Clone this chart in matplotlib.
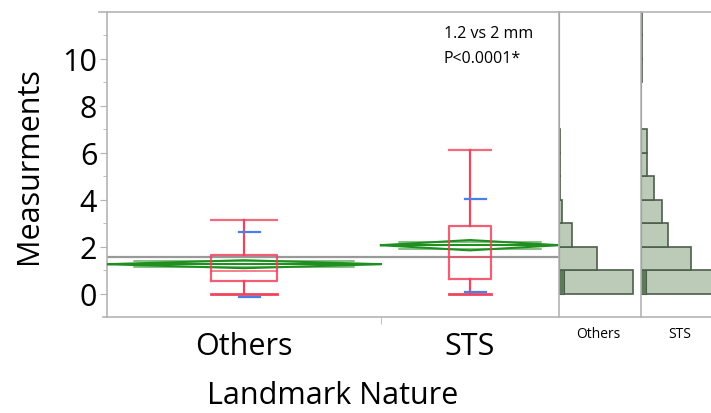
import numpy as np
import matplotlib
matplotlib.use('Agg')
import matplotlib.pyplot as plt

plt.rcParams['font.family'] = ['Open Sans', 'DejaVu Sans']

# data
groups = ['Others', 'STS']
means = [1.25, 2.06]
ci_half = [0.17, 0.22]
grand_mean = 1.57
q1 = [0.54, 0.64]
medians = [0.94, 1.57]
q3 = [1.64, 2.86]
whisk_lo = [0.0, 0.0]
whisk_hi = [3.15, 6.1]
sd_lo = [-0.14, 0.07]
sd_hi = [2.62, 4.02]

bin_edges = np.arange(0, 13)
others_counts = [74, 38, 13, 3, 1, 1, 1, 0, 0, 0, 0, 0]
sts_counts = [85, 50, 27, 21, 13, 6, 6, 0, 0, 1, 1, 1]
selected_counts = [5, 0, 0, 0, 0, 0, 0, 0, 0, 0, 0, 0]

W, H = 711, 414
fig = plt.figure(figsize=(W / 100, H / 100), dpi=100)

def px_axes(x0, x1, ytop, ybot):
    return fig.add_axes([x0 / W, (H - ybot) / H, (x1 - x0) / W, (ybot - ytop) / H])

grey = '#b4b4b4'
red = '#f0435c'
blue = '#4a7fe8'
green = '#1f8f1f'

# main panel
ax = px_axes(107, 559, 13, 318)
ax.set_xlim(0, 1)
ax.set_ylim(-1, 12)
split = 0.606
spans = [(0, split), (split, 1)]
centers = [(a + b) / 2 for a, b in spans]

ax.axhline(grand_mean, color='#999999', lw=1.6, zorder=2)

for i in range(2):
    a, b = spans[i]
    c = centers[i]
    m, h = means[i], ci_half[i]
    # means diamond
    ax.plot([a, c, b, c, a], [m, m + h, m, m - h, m], color=green, lw=1.5, zorder=3)
    ax.plot([a, b], [m, m], color=green, lw=1.5, zorder=3)
    ov = h / np.sqrt(2)
    ax.plot([a + 0.1 * (b - a), b - 0.1 * (b - a)], [m + ov, m + ov], color=green, lw=1.1, alpha=0.7, zorder=3)
    ax.plot([a + 0.1 * (b - a), b - 0.1 * (b - a)], [m - ov, m - ov], color=green, lw=1.1, alpha=0.7, zorder=3)

    # box plot
    bw = 0.24 * (b - a) / 2
    ax.plot([c - bw, c + bw, c + bw, c - bw, c - bw], [q1[i], q1[i], q3[i], q3[i], q1[i]], color=red, lw=1.6, alpha=0.85, zorder=4)
    ax.plot([c - bw, c + bw], [medians[i], medians[i]], color=red, lw=1.2, alpha=0.8, zorder=4)
    ax.plot([c, c], [q3[i], whisk_hi[i]], color=red, lw=1.6, zorder=4)
    ax.plot([c, c], [q1[i], whisk_lo[i]], color=red, lw=1.6, zorder=4)
    ax.plot([c - bw, c + bw], [whisk_hi[i], whisk_hi[i]], color=red, lw=1.6, alpha=0.8, zorder=4)
    ax.plot([c - bw, c + bw], [whisk_lo[i], whisk_lo[i]], color=red, lw=2.0, zorder=4)

    # mean +/- sd marks
    sw = 0.023
    ax.plot([c - sw + 0.012, c + sw + 0.012], [sd_hi[i], sd_hi[i]], color=blue, lw=1.6, zorder=5)
    ax.plot([c - sw + 0.012, c + sw + 0.012], [sd_lo[i], sd_lo[i]], color=blue, lw=1.6, zorder=5)

ax.text(0.745, 11.1, '1.2 vs 2 mm', fontsize=11.5, va='center', ha='left')
ax.text(0.745, 10.05, 'P<0.0001*', fontsize=11.5, va='center', ha='left')

ax.set_yticks(range(0, 11, 2))
ax.set_yticks(range(1, 12, 2), minor=True)
ax.set_xticks(centers)
ax.set_xticklabels(groups, fontsize=22)
ax.set_xticks([split], minor=True)
ax.tick_params(axis='x', which='major', length=0, pad=10)
ax.tick_params(axis='x', which='minor', length=5, color=grey)
ax.tick_params(axis='y', which='major', labelsize=22, length=5, color=grey, pad=2)
ax.tick_params(axis='y', which='minor', length=3, color=grey)
ax.set_xlabel('Landmark Nature', fontsize=22, labelpad=14)
ax.set_ylabel('Measurments', fontsize=22, labelpad=13)
for s in ax.spines.values():
    s.set_color(grey)
    s.set_linewidth(1.2)
ax.spines['right'].set_visible(False)

# frame lines poking past the left spine
fig.add_artist(plt.Line2D([99 / W, 107 / W], [(H - 13) / H, (H - 13) / H], color=grey, lw=1.2))
fig.add_artist(plt.Line2D([103 / W, 107 / W], [(H - 318) / H, (H - 318) / H], color=grey, lw=1.2))

# histograms
fill = '#bccbb8'
edge = '#4d5e4b'
dark = '#5d7b5a'
hist_panels = [(559, others_counts, 'Others'), (641, sts_counts, 'STS')]
for x0, counts, name in hist_panels:
    hx = px_axes(x0, x0 + 82, 13, 318)
    hx.barh(bin_edges[:-1], counts, height=1, align='edge', color=fill, edgecolor=edge, lw=1.2)
    hx.barh(bin_edges[:-1], selected_counts, height=1, align='edge', color=dark, edgecolor=edge, lw=0.8)
    hx.set_xlim(0, 82)
    hx.set_ylim(-1, 12)
    hx.set_xticks([])
    hx.set_yticks([])
    for s in hx.spines.values():
        s.set_color(grey)
        s.set_linewidth(1.2)
    hx.spines['right'].set_visible(False)
    fig.text((x0 + 39) / W, (H - 335) / H, name, fontsize=10, ha='center', va='center')

fig.savefig('out.png', dpi=100)
